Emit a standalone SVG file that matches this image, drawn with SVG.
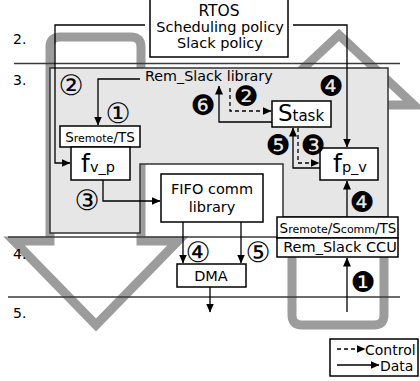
<svg xmlns="http://www.w3.org/2000/svg" width="420" height="381" viewBox="0 0 420 381">
<style>
text{font-family:"DejaVu Sans","Liberation Sans",sans-serif;fill:#000}
.big{fill:none;stroke:#9c9c9c;stroke-width:9;stroke-linejoin:miter;stroke-miterlimit:10}
.sep{stroke:#3a3a3a;stroke-width:1.5;fill:none}
.box{fill:#fff;stroke:#000;stroke-width:1.5}
.c{fill:none;stroke:#000;stroke-width:1.3}
.d{fill:none;stroke:#000;stroke-width:1.3;stroke-dasharray:4 3}
.n{font-size:28px;text-anchor:middle}
.t{font-size:14.5px;text-anchor:middle}
.lv{font-size:14px}
</style>
<defs>
<marker id="ah" markerWidth="9" markerHeight="8" refX="8.5" refY="4" orient="auto" markerUnits="userSpaceOnUse">
<path d="M0,0 L9,4 L0,8 Z" fill="#000"/>
</marker>
</defs>

<g id="big-arrows">
<path class="big" d="M50 241 V47 Q50 37 60 37 H131 Q141 37 141 47 V241 H178 L96 325 L14 241 Z"/>
<path class="big" d="M292 105 V315 Q292 325 302 325 H374 Q384 325 384 315 V105 H414 L339 35 L264 105 Z"/>
</g>

<g id="library-region">
<path d="M50 68 H388 V217 H283 V164 H140 V233 H50 Z" fill="#e6e6e6" stroke="#333" stroke-width="1.5"/>
<text x="145" y="81" style="font-size:14.3px">Rem_Slack library</text>
</g>

<g id="levels">
<line class="sep" x1="14" y1="63.5" x2="400" y2="63.5"/>
<line class="sep" x1="8" y1="237" x2="398" y2="237"/>
<line class="sep" x1="8" y1="297" x2="400" y2="297"/>
<text x="13" y="44" class="lv">2.</text>
<text x="13" y="85" class="lv">3.</text>
<text x="13" y="259" class="lv">4.</text>
<text x="13" y="318" class="lv">5.</text>
</g>

<g id="connectors">
<path class="c" d="M293 25 H347 V147" marker-end="url(#ah)"/>
<path class="c" d="M145 25 H55 V163 H70" marker-end="url(#ah)"/>
<path class="c" d="M140 79 H98 V125" marker-end="url(#ah)"/>
<path class="c" d="M103 180 V201 H160" marker-end="url(#ah)"/>
<path class="c" d="M183 222 V263" marker-end="url(#ah)"/>
<path class="c" d="M241 222 V263" marker-end="url(#ah)"/>
<path class="c" d="M210 287 V312" marker-end="url(#ah)"/>
<path class="c" d="M347 217 V181" marker-end="url(#ah)"/>
<path class="c" d="M347 312 V258" marker-end="url(#ah)"/>
<path class="c" d="M272 122 H219 V86" marker-end="url(#ah)"/>
<path class="d" d="M230 88 V111 H271" marker-end="url(#ah)"/>
<path class="c" d="M320 168 H293 V128" marker-end="url(#ah)"/>
<path class="d" d="M298 128 V163 H319" marker-end="url(#ah)"/>
</g>

<g id="rtos">
<rect class="box" x="150" y="-1" width="138" height="58"/>
<text x="219" y="16" class="t" style="font-size:15.5px">RTOS</text>
<text x="220" y="32" class="t">Scheduling policy</text>
<text x="220" y="48" class="t">Slack policy</text>
</g>

<g id="sremote-ts">
<rect class="box" x="60" y="126" width="80" height="21"/>
<text x="100" y="142" class="t"><tspan style="font-size:13.5px">S</tspan><tspan style="font-size:11px">remote</tspan><tspan style="font-size:13.5px">/TS</tspan></text>
</g>

<g id="fvp">
<rect class="box" x="71" y="147" width="59" height="33"/>
<text x="98" y="172" class="t"><tspan style="font-size:25px">f</tspan><tspan style="font-size:14.5px">v_p</tspan></text>
</g>

<g id="stask">
<rect class="box" x="272" y="101" width="59" height="26"/>
<text x="301" y="121" class="t"><tspan style="font-size:23px">S</tspan><tspan style="font-size:15px">task</tspan></text>
</g>

<g id="fpv">
<rect class="box" x="320" y="148" width="58" height="32"/>
<text x="350" y="172" class="t"><tspan style="font-size:25px">f</tspan><tspan style="font-size:14.5px">p_v</tspan></text>
</g>

<g id="fifo">
<rect class="box" x="161" y="174" width="102" height="48"/>
<text x="212" y="194" class="t">FIFO comm</text>
<text x="212" y="212" class="t">library</text>
</g>

<g id="dma">
<rect class="box" x="177" y="264" width="69" height="23"/>
<text x="211" y="281" class="t">DMA</text>
</g>

<g id="ccu">
<rect class="box" x="277" y="217" width="121" height="21"/>
<text x="338" y="233" class="t"><tspan style="font-size:13.5px">S</tspan><tspan style="font-size:11px">remote</tspan><tspan style="font-size:13.5px">/S</tspan><tspan style="font-size:11px">comm</tspan><tspan style="font-size:13.5px">/TS</tspan></text>
<rect class="box" x="277" y="238" width="121" height="19"/>
<text x="340" y="252" class="t">Rem_Slack CCU</text>
</g>

<g id="steps">
<text x="118" y="123" class="n">①</text>
<text x="71" y="95" class="n">②</text>
<text x="87" y="210" class="n">③</text>
<text x="198" y="262" class="n">④</text>
<text x="258" y="262" class="n">⑤</text>
<text x="363" y="292" class="n">❶</text>
<text x="246" y="106" class="n">❷</text>
<text x="313" y="155" class="n">❸</text>
<text x="331" y="96" class="n">❹</text>
<text x="362" y="212" class="n">❹</text>
<text x="278" y="155" class="n">❺</text>
<text x="203" y="115" class="n">❻</text>
</g>

<g id="legend">
<rect class="box" x="330" y="339" width="88" height="37"/>
<path class="d" d="M337 349 H365" marker-end="url(#ah)"/>
<path class="c" d="M337 365 H379" marker-end="url(#ah)"/>
<text x="365" y="355" style="font-size:14px">Control</text>
<text x="380" y="371" style="font-size:14px">Data</text>
</g>
</svg>
